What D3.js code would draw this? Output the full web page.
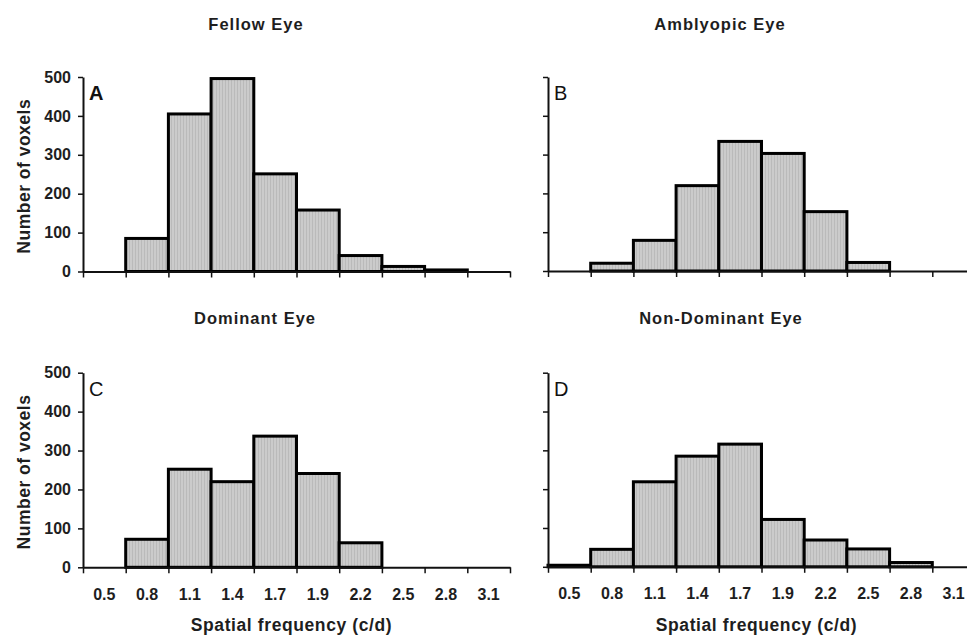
<!DOCTYPE html>
<html>
<head>
<meta charset="utf-8">
<script src="https://cdn.jsdelivr.net/npm/d3@7"></script>
<style>
  body { margin: 0; background: #fff; }
  svg { display: block; font-family: "Liberation Sans", Arial, sans-serif; }
</style>
</head>
<body>
<div class="container"></div>
<script>
const bins = ["0.5", "0.8", "1.1", "1.4", "1.7", "1.9", "2.2", "2.5", "2.8", "3.1"]
const yTicks = [0, 100, 200, 300, 400, 500]

const fellow = [0, 85, 405, 496, 251, 158, 41, 13, 4, 0]
const amblyopic = [0, 20, 79, 220, 334, 303, 153, 22, 0, 0]
const dominant = [0, 72, 252, 220, 337, 241, 63, 0, 0, 0]
const nonDominant = [4, 45, 219, 285, 316, 122, 69, 46, 11, 0]

const panels = [
  { title: "Fellow Eye", letter: "A", values: fellow, left: 83, top: 77, bottom: 271.5, titleX: 256, titleY: 30, yLabels: true, xLabels: false },
  { title: "Amblyopic Eye", letter: "B", values: amblyopic, left: 548, top: 77, bottom: 271, titleX: 720, titleY: 30, yLabels: false, xLabels: false },
  { title: "Dominant Eye", letter: "C", values: dominant, left: 83, top: 372.7, bottom: 567.3, titleX: 255, titleY: 324, yLabels: true, xLabels: true },
  { title: "Non-Dominant Eye", letter: "D", values: nonDominant, left: 548, top: 372.7, bottom: 566.8, titleX: 721, titleY: 324, yLabels: false, xLabels: true }
]

const width = 967
const height = 636
const axisWidth = 427
const ink = "#1e1e1e"

const svg = d3.select(".container").append("svg")
  .attr("width", width)
  .attr("height", height)

// fine vertical hatch like the scanned fill
const pat = svg.append("defs").append("pattern")
  .attr("id", "hatch")
  .attr("patternUnits", "userSpaceOnUse")
  .attr("width", 3).attr("height", 4)
pat.append("rect").attr("width", 3).attr("height", 4).attr("fill", "#cbcbcb")
pat.append("rect").attr("width", 1).attr("height", 4).attr("fill", "#bababa")

panels.forEach(p => {
  const g = svg.append("g")

  const x = d3.scaleBand().domain(bins).range([p.left, p.left + axisWidth]).padding(0)
  const xEdge = d3.scaleLinear().domain([0, bins.length]).range([p.left, p.left + axisWidth])
  const y = d3.scaleLinear().domain([0, 500]).range([p.bottom, p.top])

  g.append("text")
    .attr("x", p.titleX).attr("y", p.titleY)
    .attr("text-anchor", "middle")
    .attr("font-size", 16.5).attr("font-weight", "bold").attr("fill", ink)
    .attr("letter-spacing", 1)
    .text(p.title)

  // bars
  g.selectAll("rect.bar")
    .data(bins.map((b, i) => ({ b, v: p.values[i] })).filter(d => d.v > 0))
    .join("rect")
    .attr("class", "bar")
    .attr("x", d => x(d.b))
    .attr("width", x.bandwidth())
    .attr("y", d => y(d.v))
    .attr("height", d => y(0) - y(d.v))
    .attr("fill", "url(#hatch)")
    .attr("stroke", "#000")
    .attr("stroke-width", 3)

  // y axis
  const yAxis = d3.axisLeft(y).tickValues(yTicks).tickSize(5).tickSizeOuter(0).tickPadding(7)
    .tickFormat(p.yLabels ? d3.format("d") : "")
  const ya = g.append("g").attr("transform", `translate(${p.left},0)`).call(yAxis)
  ya.select(".domain").attr("stroke", "#111").attr("stroke-width", 2)
  ya.selectAll(".tick line").attr("stroke", "#111").attr("stroke-width", 1.5)
  ya.selectAll(".tick text").attr("font-size", 16).attr("font-weight", "bold").attr("fill", ink)
    .attr("font-family", "Liberation Sans, Arial, sans-serif")

  // x axis: ticks at bin edges
  const xAxis = d3.axisBottom(xEdge).tickValues(d3.range(bins.length + 1)).tickSize(6).tickSizeOuter(0).tickFormat("")
  const xa = g.append("g").attr("transform", `translate(0,${y(0)})`).call(xAxis)
  xa.select(".domain").attr("stroke", "#111").attr("stroke-width", 2)
  xa.selectAll(".tick line").attr("stroke", "#111").attr("stroke-width", 1.5)

  if (p.xLabels) {
    const xl = g.append("g").attr("transform", `translate(0,${y(0)})`)
      .call(d3.axisBottom(x).tickSize(0).tickPadding(21))
    xl.select(".domain").remove()
    xl.selectAll(".tick text").attr("font-size", 16).attr("font-weight", "bold").attr("fill", ink)
      .attr("font-family", "Liberation Sans, Arial, sans-serif")

    g.append("text")
      .attr("x", p.left + axisWidth / 2 - 5).attr("y", y(0) + 64)
      .attr("text-anchor", "middle")
      .attr("font-size", 17.5).attr("font-weight", "bold").attr("fill", ink)
      .attr("letter-spacing", 0.6)
      .text("Spatial frequency (c/d)")
  }

  if (p.yLabels) {
    g.append("text")
      .attr("transform", `translate(24,${(p.top + p.bottom) / 2 + 2}) rotate(-90)`)
      .attr("text-anchor", "middle")
      .attr("dominant-baseline", "central")
      .attr("font-size", 17.5).attr("font-weight", "bold").attr("fill", ink)
      .attr("letter-spacing", 0.5)
      .text("Number of voxels")
  }

  g.append("text")
    .attr("x", p.left + 6).attr("y", p.top + 23)
    .attr("font-size", 20).attr("font-weight", p.letter === "A" ? "bold" : "normal").attr("fill", "#111")
    .text(p.letter)
})
</script>
</body>
</html>
